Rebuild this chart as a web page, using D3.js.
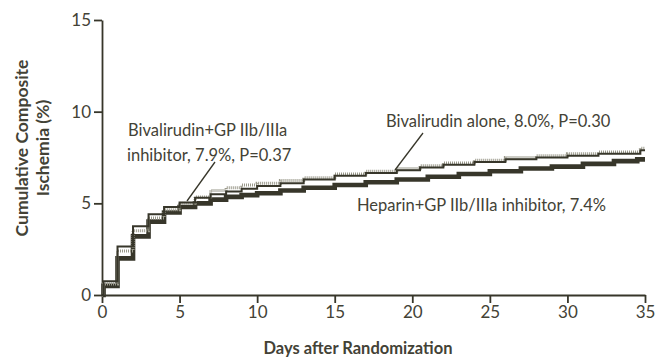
<!DOCTYPE html>
<html>
<head>
<meta charset="utf-8">
<script src="https://cdn.jsdelivr.net/npm/d3@7"></script>
<style>
  html, body { margin: 0; padding: 0; background: #fff; }
  svg text { font-family: Lato, "Open Sans", sans-serif; }
</style>
</head>
<body>
<svg id="chart" width="657" height="357"></svg>
<script>
// Kaplan-Meier style cumulative incidence, step points as [day, percent]
const bivalirudinAlone = [
  [0, 0], [0.1, 0.6], [1, 2.4], [2, 3.5], [3, 4.2], [4, 4.65], [5, 5.0], [6, 5.35],
  [7, 5.7], [8, 5.85], [9, 6.0], [10, 6.1], [11.5, 6.25], [13, 6.4], [15, 6.6],
  [17, 6.75], [19, 6.9], [20.5, 7.05], [22, 7.2], [24, 7.35], [26, 7.5], [28, 7.6],
  [30, 7.7], [32, 7.8], [34.7, 8.0], [35, 8.0]
];
const bivalirudinGP = [
  [0, 0], [0.1, 0.75], [1, 2.65], [2, 3.75], [3, 4.4], [4, 4.8], [5, 5.05], [6, 5.3],
  [7, 5.5], [8, 5.65], [9, 5.8], [10, 5.95], [11.5, 6.1], [13, 6.3], [15, 6.5],
  [17, 6.65], [19, 6.8], [20.5, 6.95], [22, 7.1], [24, 7.25], [26, 7.4], [28, 7.5],
  [30, 7.6], [32, 7.7], [34.7, 7.9], [35, 7.9]
];
const heparinGP = [
  [0, 0], [0.1, 0.5], [1, 2.0], [2, 3.2], [3, 4.0], [4, 4.5], [5, 4.8], [6, 5.0],
  [7, 5.2], [8, 5.35], [9, 5.45], [10, 5.55], [11.5, 5.7], [13, 5.85], [15, 6.0],
  [17, 6.15], [19, 6.3], [21, 6.45], [23, 6.6], [25, 6.75], [27, 6.9], [29, 7.0],
  [31, 7.15], [33, 7.3], [34.5, 7.4], [35, 7.4]
];
const xTicks = [0, 5, 10, 15, 20, 25, 30, 35];
const yTicks = [0, 5, 10, 15];
const yTitle = ["Cumulative Composite", "Ischemia (%)"];
const xTitle = "Days after Randomization";

const ink = "#37362a";
const textInk = "#434236";

const svg = d3.select("#chart");
const x = d3.scaleLinear().domain([0, 35]).range([102, 645]);
const y = d3.scaleLinear().domain([0, 15]).range([295, 20]);

// axes
const xAxis = svg.append("g").attr("transform", `translate(0,${y(0)})`)
  .call(d3.axisBottom(x).tickValues(xTicks).tickSize(8).tickPadding(3).tickSizeOuter(0));
const yAxis = svg.append("g").attr("transform", `translate(${x(0)},0)`)
  .call(d3.axisLeft(y).tickValues(yTicks).tickSize(8).tickPadding(3).tickSizeOuter(0));
[xAxis, yAxis].forEach(g => {
  g.select(".domain").attr("stroke", ink).attr("stroke-width", 1.8);
  g.selectAll(".tick line").attr("stroke", ink).attr("stroke-width", 1.8);
  g.selectAll(".tick text").attr("fill", textInk).style("font-size", "17px")
    .style("font-family", "Lato, sans-serif");
});

// step curves
const line = d3.line().x(d => x(d[0])).y(d => y(d[1])).curve(d3.curveStepAfter);

svg.append("path").datum(heparinGP).attr("d", line)
  .attr("fill", "none").attr("stroke", ink).attr("stroke-width", 4.6);
svg.append("path").datum(bivalirudinAlone).attr("d", line)
  .attr("fill", "none").attr("stroke", "#9a998b").attr("stroke-width", 3)
  .attr("stroke-dasharray", "1,1");
svg.append("path").datum(bivalirudinGP).attr("d", line)
  .attr("fill", "none").attr("stroke", ink).attr("stroke-width", 2);

// annotations and leader lines
const ann = svg.append("g").attr("fill", textInk).style("font-size", "16.5px");
ann.append("text").attr("x", 128).attr("y", 136).text("Bivalirudin+GP IIb/IIIa");
ann.append("text").attr("x", 127).attr("y", 161).text("inhibitor, 7.9%, P=0.37");
ann.append("text").attr("x", 386).attr("y", 127).text("Bivalirudin alone, 8.0%, P=0.30");
ann.append("text").attr("x", 357).attr("y", 211).text("Heparin+GP IIb/IIIa inhibitor, 7.4%");

svg.append("line").attr("x1", 215).attr("y1", 162).attr("x2", 187).attr("y2", 201)
  .attr("stroke", ink).attr("stroke-width", 1.3);
svg.append("line").attr("x1", 423).attr("y1", 133).attr("x2", 395).attr("y2", 170)
  .attr("stroke", ink).attr("stroke-width", 1.3);

// axis titles
svg.append("text").attr("x", 358).attr("y", 354).attr("text-anchor", "middle")
  .attr("fill", textInk).style("font-size", "16.5px").style("font-weight", "bold")
  .text(xTitle);
const yt = svg.append("text").attr("transform", "translate(0,148) rotate(-90)")
  .attr("text-anchor", "middle").attr("fill", textInk)
  .style("font-size", "17.5px").style("font-weight", "bold");
yTitle.forEach((t, i) => yt.append("tspan").attr("x", 0).attr("y", 28 + i * 21).text(t));
</script>
</body>
</html>
